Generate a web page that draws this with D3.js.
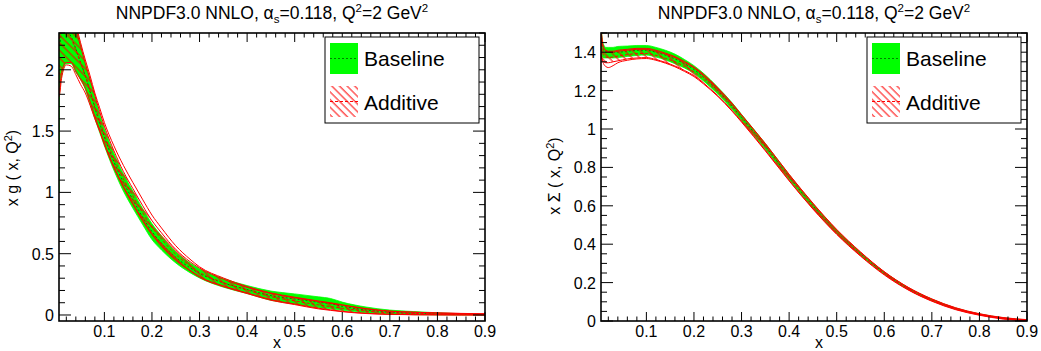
<!DOCTYPE html>
<html><head><meta charset="utf-8">
<script src="https://cdn.jsdelivr.net/npm/d3@7"></script>
<style>body{margin:0;background:#fff}svg{display:block;font-family:"Liberation Sans",Arial,sans-serif}</style>
</head><body><svg id="c" width="1041" height="351"></svg>
<script>
// ---------- DATA ----------
const titleMain = "NNPDF3.0 NNLO, ";
const legendLabels = ["Baseline", "Additive"];
const xTicks = [0.1,0.2,0.3,0.4,0.5,0.6,0.7,0.8,0.9];
const gYTicks = [0,0.5,1,1.5,2];
const sYTicks = [0,0.2,0.4,0.6,0.8,1,1.2,1.4];

// gluon x g(x,Q2)
const gX       = [0.0046,0.0055,0.01,0.02,0.03,0.04,0.05,0.06,0.07,0.08,0.09,0.10,0.12,0.14,0.16,0.18,0.20,0.22,0.25,0.28,0.30,0.35,0.40,0.45,0.50,0.55,0.575,0.60,0.65,0.70,0.75,0.80,0.85,0.90];
const gBaseC   = [2.2,2.2,2.3,2.32,2.27,2.17,2.06,1.95,1.82,1.69,1.565,1.45,1.25,1.08,0.94,0.80,0.68,0.585,0.47,0.385,0.34,0.262,0.208,0.158,0.131,0.104,0.092,0.071,0.041,0.024,0.015,0.009,0.005,0.003];
const gBaseHi  = [2.75,2.75,2.7,2.6,2.48,2.35,2.20,2.05,1.92,1.78,1.64,1.52,1.32,1.15,1.01,0.87,0.745,0.645,0.515,0.425,0.378,0.297,0.24,0.195,0.172,0.148,0.135,0.105,0.065,0.040,0.028,0.018,0.010,0.006];
const gBaseLo  = [1.0,1.78,1.95,2.05,2.05,1.98,1.92,1.84,1.72,1.60,1.49,1.38,1.18,1.01,0.87,0.74,0.615,0.53,0.425,0.345,0.302,0.227,0.175,0.12,0.09,0.06,0.05,0.038,0.018,0.008,0.003,0.001,0.0,0.0];
const gAddHi   = [2.7,2.7,2.65,2.55,2.45,2.33,2.19,2.05,1.92,1.79,1.66,1.54,1.34,1.17,1.03,0.895,0.77,0.67,0.535,0.435,0.383,0.292,0.225,0.175,0.14,0.11,0.095,0.08,0.05,0.03,0.022,0.016,0.012,0.009];
const gAddLo   = [1.80,1.82,1.98,2.06,2.06,1.99,1.92,1.85,1.74,1.62,1.51,1.40,1.21,1.05,0.91,0.78,0.665,0.57,0.455,0.365,0.313,0.237,0.18,0.125,0.09,0.055,0.042,0.03,0.014,0.006,0.003,0.002,0.001,0.001];
const gAddSigHi= [2.75,2.75,2.7,2.6,2.5,2.37,2.22,2.08,1.95,1.81,1.69,1.57,1.38,1.22,1.08,0.945,0.815,0.71,0.565,0.455,0.393,0.302,0.232,0.18,0.145,0.114,0.10,0.083,0.052,0.032,0.023,0.017,0.013,0.010];
const gAddSigLo= [1.78,1.79,1.93,2.04,2.03,1.96,1.88,1.81,1.71,1.60,1.50,1.39,1.20,1.04,0.90,0.77,0.655,0.56,0.445,0.36,0.308,0.232,0.175,0.12,0.085,0.05,0.038,0.027,0.012,0.005,0.002,0.001,0.0,0.0];

// singlet x Sigma(x,Q2)
const sX       = [0.0046,0.006,0.01,0.015,0.02,0.03,0.04,0.06,0.08,0.10,0.12,0.14,0.16,0.18,0.20,0.22,0.25,0.28,0.30,0.35,0.40,0.45,0.50,0.55,0.60,0.65,0.70,0.75,0.80,0.85,0.90];
const sBaseC   = [1.48,1.44,1.41,1.40,1.40,1.40,1.40,1.405,1.41,1.41,1.40,1.385,1.365,1.34,1.31,1.27,1.20,1.12,1.06,0.91,0.75,0.60,0.465,0.35,0.25,0.17,0.11,0.065,0.035,0.015,0.004];
const sBaseHi  = [1.56,1.50,1.44,1.425,1.425,1.425,1.43,1.432,1.435,1.435,1.425,1.41,1.39,1.362,1.33,1.29,1.218,1.137,1.076,0.925,0.763,0.612,0.475,0.358,0.256,0.175,0.114,0.068,0.037,0.017,0.006];
const sBaseLo  = [1.40,1.38,1.37,1.37,1.37,1.37,1.372,1.378,1.383,1.385,1.375,1.36,1.34,1.318,1.29,1.25,1.182,1.103,1.044,0.895,0.737,0.588,0.455,0.342,0.244,0.165,0.106,0.062,0.033,0.013,0.002];
const sAddHi   = [1.55,1.48,1.42,1.405,1.40,1.40,1.405,1.41,1.415,1.415,1.405,1.39,1.372,1.347,1.318,1.28,1.21,1.13,1.07,0.92,0.76,0.61,0.474,0.357,0.255,0.174,0.113,0.067,0.036,0.016,0.005];
const sAddLo   = [1.40,1.37,1.35,1.345,1.345,1.35,1.355,1.365,1.37,1.372,1.362,1.347,1.328,1.305,1.278,1.24,1.174,1.097,1.04,0.89,0.733,0.586,0.454,0.341,0.243,0.164,0.105,0.061,0.032,0.012,0.002];
const sAddSigHi= [1.56,1.49,1.425,1.41,1.405,1.405,1.41,1.415,1.42,1.42,1.41,1.395,1.377,1.352,1.323,1.285,1.214,1.134,1.074,0.924,0.764,0.614,0.477,0.36,0.257,0.176,0.115,0.069,0.038,0.018,0.007];
const sAddSigLo= [1.42,1.38,1.34,1.325,1.32,1.33,1.345,1.358,1.365,1.367,1.358,1.343,1.324,1.30,1.273,1.235,1.17,1.093,1.036,0.886,0.73,0.583,0.451,0.338,0.24,0.162,0.103,0.059,0.03,0.01,0.001];

// ---------- DRAWING ----------
const svg = d3.select("#c");
const defs = svg.append("defs");
const HP = 5.4;
const pat = defs.append("pattern").attr("id","hatch").attr("patternUnits","userSpaceOnUse")
  .attr("width",HP).attr("height",HP).attr("patternTransform","rotate(-45)");
pat.append("line").attr("x1",1).attr("y1",0).attr("x2",1).attr("y2",HP).attr("stroke","#ff0000").attr("stroke-width",1);

const GREEN="#00ff00", DGREEN="#008000", RED="#ff0000";

function panel(o){
  const x = d3.scaleLinear().domain([0.0046,0.9]).range([o.left, o.left+426]);
  const y = d3.scaleLinear().domain(o.yDom).range([321,33]);
  const g = svg.append("g");
  const cid = "clip"+o.id;
  defs.append("clipPath").attr("id",cid).append("rect").attr("x",o.left).attr("y",33).attr("width",426).attr("height",288);
  const pl = g.append("g").attr("clip-path",`url(#${cid})`);
  const idx = d3.range(o.X.length);
  const curve = d3.curveMonotoneX;
  const area = (lo,hi)=>d3.area().curve(curve).x(i=>x(o.X[i])).y0(i=>y(lo[i])).y1(i=>y(hi[i]));
  const line = (v)=>d3.line().curve(curve).x(i=>x(o.X[i])).y(i=>y(v[i]));
  // baseline band
  pl.append("path").attr("d",area(o.bLo,o.bHi)(idx)).attr("fill",GREEN).attr("stroke",GREEN).attr("stroke-width",0.8);
  pl.append("path").attr("d",line(o.bC)(idx)).attr("fill","none").attr("stroke",DGREEN).attr("stroke-width",1).attr("stroke-dasharray","2,2");
  // additive band
  pl.append("path").attr("d",area(o.aLo,o.aHi)(idx)).attr("fill","url(#hatch)").attr("stroke","none");
  [o.aLo,o.aHi,o.aSLo,o.aSHi].forEach(v=>pl.append("path").attr("d",line(v)(idx)).attr("fill","none").attr("stroke",RED).attr("stroke-width",1));
  const aC = o.aLo.map((v,i)=>(v+o.aHi[i])/2);
  pl.append("path").attr("d",line(aC)(idx)).attr("fill","none").attr("stroke",RED).attr("stroke-width",1).attr("stroke-dasharray","3,2");

  // frame
  g.append("rect").attr("x",o.left).attr("y",33).attr("width",426).attr("height",288).attr("fill","none").attr("stroke","#000").attr("stroke-width",1.6);
  // x ticks (bottom inward, top inward)
  const xMinor = d3.range(0.02,0.9001,0.02).map(v=>+v.toFixed(2));
  xMinor.forEach(v=>{
    const major = Math.abs(v*10-Math.round(v*10))<1e-6;
    const L = major?9:4.5;
    g.append("line").attr("x1",x(v)).attr("x2",x(v)).attr("y1",321).attr("y2",321-L).attr("stroke","#000").attr("stroke-width",1);
    g.append("line").attr("x1",x(v)).attr("x2",x(v)).attr("y1",33).attr("y2",33+L).attr("stroke","#000").attr("stroke-width",1);
  });
  xTicks.forEach(v=>g.append("text").attr("x",x(v)).attr("y",337).attr("text-anchor","middle").attr("font-size",16).text(v));
  // y ticks
  const ys = d3.range(o.yMinorStart, o.yDom[1]+1e-9, o.yMinor).map(v=>+v.toFixed(3));
  ys.forEach(v=>{
    if (y(v)<33 || y(v)>321) return;
    const major = Math.abs(v/o.yMajor-Math.round(v/o.yMajor))<1e-6;
    const L = major?12:6;
    g.append("line").attr("x1",o.left).attr("x2",o.left+L).attr("y1",y(v)).attr("y2",y(v)).attr("stroke","#000").attr("stroke-width",1);
    g.append("line").attr("x1",o.left+426).attr("x2",o.left+426-L).attr("y1",y(v)).attr("y2",y(v)).attr("stroke","#000").attr("stroke-width",1);
  });
  o.yTicks.forEach(v=>g.append("text").attr("x",o.left-5).attr("y",y(v)+6).attr("text-anchor","end").attr("font-size",16).text(v));
  // axis titles
  g.append("text").attr("x",o.left+218).attr("y",348).attr("text-anchor","middle").attr("font-size",16).text("x");
  const yt = g.append("text").attr("transform",`translate(${o.left-41},${o.ylabY}) rotate(-90)`).attr("text-anchor","middle").attr("font-size",16);
  yt.append("tspan").text(o.ylab+" ( x, Q");
  yt.append("tspan").attr("font-size",11).attr("dy",-6).text("2");
  yt.append("tspan").attr("dy",6).text(")");
  // title
  const t = g.append("text").attr("x",o.left+213).attr("y",19).attr("text-anchor","middle").attr("font-size",17.5);
  t.append("tspan").text(titleMain+"α");
  t.append("tspan").attr("font-size",11.5).attr("dy",4).text("s");
  t.append("tspan").attr("dy",-4).text("=0.118,  Q");
  t.append("tspan").attr("font-size",11.5).attr("dy",-7).text("2");
  t.append("tspan").attr("dy",7).text("=2 GeV");
  t.append("tspan").attr("font-size",11.5).attr("dy",-7).text("2");
  // legend
  const lx = o.left+266;
  g.append("rect").attr("x",lx).attr("y",37).attr("width",154).attr("height",86).attr("fill","#fff").attr("stroke","#000").attr("stroke-width",1);
  g.append("rect").attr("x",lx+5).attr("y",43).attr("width",28).attr("height",31).attr("fill",GREEN);
  g.append("line").attr("x1",lx+5).attr("x2",lx+33).attr("y1",58.5).attr("y2",58.5).attr("stroke",DGREEN).attr("stroke-dasharray","2,2");
  g.append("rect").attr("x",lx+5).attr("y",86).attr("width",28).attr("height",31).attr("fill","url(#hatch)");
  g.append("line").attr("x1",lx+5).attr("x2",lx+33).attr("y1",101.5).attr("y2",101.5).attr("stroke",RED).attr("stroke-dasharray","3,2");
  g.append("text").attr("x",lx+39).attr("y",66).attr("font-size",21).text(legendLabels[0]);
  g.append("text").attr("x",lx+39).attr("y",110).attr("font-size",21).text(legendLabels[1]);
}

panel({id:"g",left:59,yDom:[-0.049,2.3],yMajor:0.5,yMinor:0.1,yMinorStart:0,yTicks:gYTicks,ylab:"x g",ylabY:168,
  X:gX,bC:gBaseC,bHi:gBaseHi,bLo:gBaseLo,aHi:gAddHi,aLo:gAddLo,aSHi:gAddSigHi,aSLo:gAddSigLo});
panel({id:"s",left:601,yDom:[0,1.5],yMajor:0.2,yMinor:0.05,yMinorStart:0,yTicks:sYTicks,ylab:"x Σ",ylabY:176,
  X:sX,bC:sBaseC,bHi:sBaseHi,bLo:sBaseLo,aHi:sAddHi,aLo:sAddLo,aSHi:sAddSigHi,aSLo:sAddSigLo});
</script></body></html>
